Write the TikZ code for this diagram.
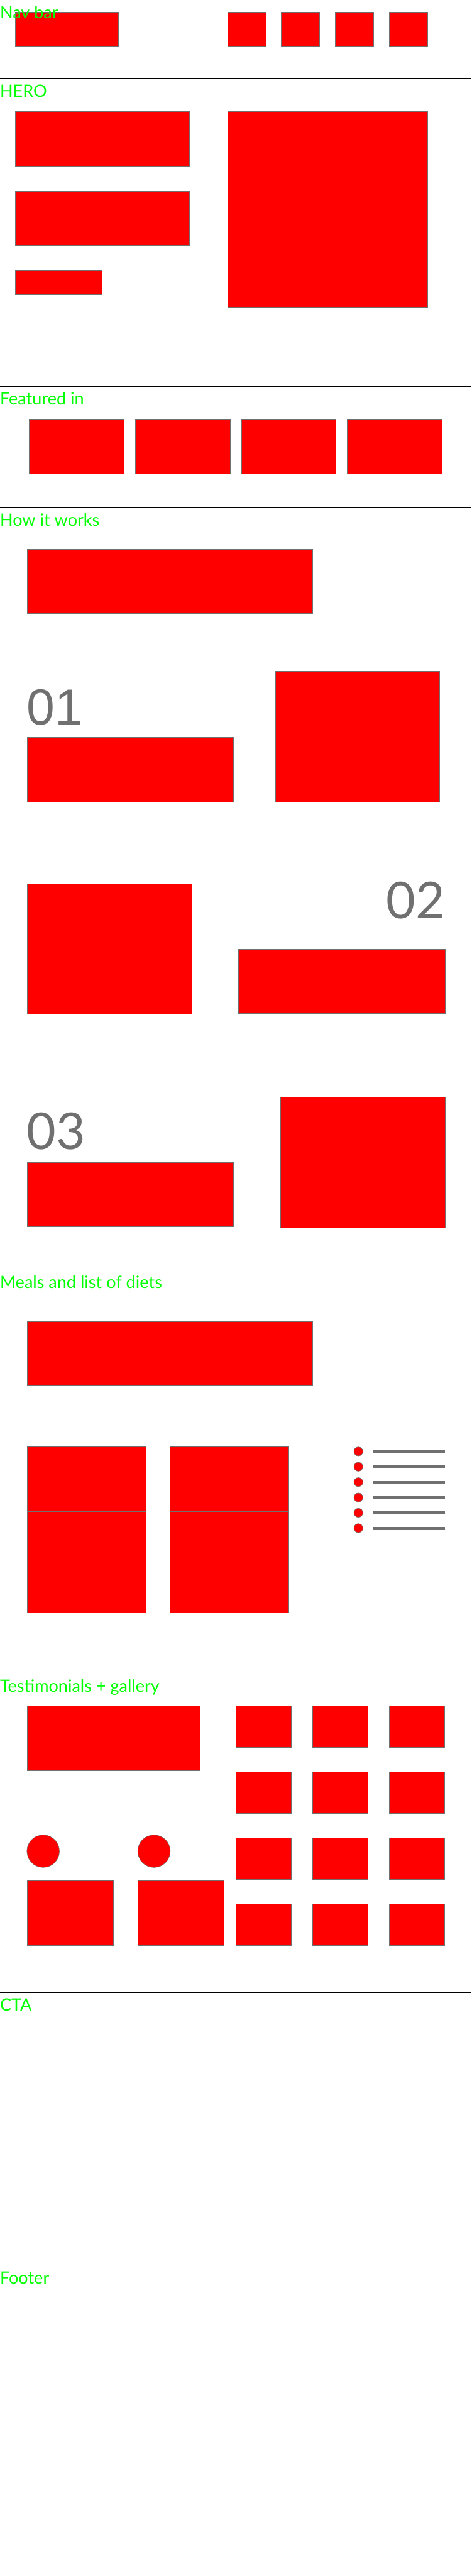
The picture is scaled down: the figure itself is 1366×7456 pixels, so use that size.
\documentclass[tikz,border=0pt]{standalone}
\usepackage{fontspec}
\setmainfont{Lato}
\newfontfamily\arialfont{Liberation Sans}
\definecolor{wireRed}{HTML}{FF0000}
\definecolor{wireGray}{HTML}{707070}
\definecolor{tagGreen}{HTML}{00FF00}
\tikzset{
  every node/.style={inner sep=0pt, outer sep=0pt},
  block/.style={fill=wireRed, draw=wireGray, line width=0.3pt},
  divider/.style={draw=black, line width=0.45pt},
  sectag/.style={anchor=base west, text=tagGreen, font=\fontsize{14}{16}\selectfont},
  stepnum/.style={text=wireGray, font=\fontsize{41.7}{44}\selectfont},
  bulletdot/.style={fill=wireRed, draw=wireGray, line width=0.3pt},
  bulletline/.style={draw=wireGray, line width=2.2pt},
}

\begin{document}
\begin{tikzpicture}[x=0.01cm,y=-0.01cm]
  \useasboundingbox (0,0) rectangle (1366,7456);

  % section dividers
  \foreach \yy in {227,1118,1468,3673,4844,5767}{\draw[divider] (0,\yy)--(1366,\yy);}

  % nav bar
  \draw[block] (43.5,36) rectangle (343,134);
  \foreach \xx in {659,815,971,1127}{\draw[block] (\xx,36) rectangle ++(111,98);}

  % hero
  \draw[block] (43.5,323) rectangle (549,481);
  \draw[block] (43.5,553) rectangle (549,710);
  \draw[block] (43.5,783) rectangle (296,852);
  \draw[block] (659,323) rectangle (1238,888);

  % featured in
  \foreach \xx in {85,392,699,1006}{\draw[block] (\xx,1215) rectangle ++(274,157);}

  % how it works
  \draw[block] (78,1589) rectangle (906,1775);
  \node[stepnum, font=\arialfont\fontsize{41.7}{44}\selectfont, anchor=base west] (stepA) at (78,2097) {01};
  \draw[block] (78,2134) rectangle (676,2321);
  \draw[block] (797,1943) rectangle (1273,2321);

  \draw[block] (78,2558) rectangle (555,2935);
  \node[stepnum, anchor=base east] (stepB) at (1289,2659) {02};
  \draw[block] (691,2747) rectangle (1289,2933);

  \node[stepnum, anchor=base west] (stepC) at (78,3327) {03};
  \draw[block] (78,3364) rectangle (676,3550);
  \draw[block] (812,3175) rectangle (1289,3553);

  % meals and diet list
  \draw[block] (78,3825) rectangle (906,4011);
  \foreach \xx in {78,492}{
    \draw[block] (\xx,4188) rectangle ++(344,187);
    \draw[block] (\xx,4375) rectangle ++(344,292);
  }
  \foreach \i in {0,...,5}{
    \draw[bulletdot] (1038,4201+44.4*\i) circle[radius=13];
    \draw[bulletline] (1079,4201+44.4*\i)--(1289,4201+44.4*\i);
  }

  % testimonials + gallery
  \draw[block] (78,4938) rectangle (579,5124);
  \foreach \xx in {683,905,1127}{
    \foreach \yy in {4938,5129,5320,5511}{\draw[block] (\xx,\yy) rectangle ++(161,119);}
  }
  \draw[block] (125,5358) circle[radius=47];
  \draw[block] (446,5358) circle[radius=47];
  \draw[block] (78,5444) rectangle (328,5630);
  \draw[block] (399,5444) rectangle (649,5630);

  % section labels
  \node[sectag] (tagNav) at (0,53) {Nav bar};
  \node[sectag] (tagHero) at (0,281) {HERO};
  \node[sectag] (tagFeat) at (0,1172) {Featured in};
  \node[sectag] (tagHow) at (0,1522) {How it works};
  \node[sectag] (tagMeals) at (0,3729) {Meals and list of diets};
  \node[sectag] (tagTesti) at (0,4898) {Testimonials + gallery};
  \node[sectag] (tagCta) at (0,5821) {CTA};
  \node[sectag] (tagFoot) at (0,6610) {Footer};
\end{tikzpicture}
\end{document}
